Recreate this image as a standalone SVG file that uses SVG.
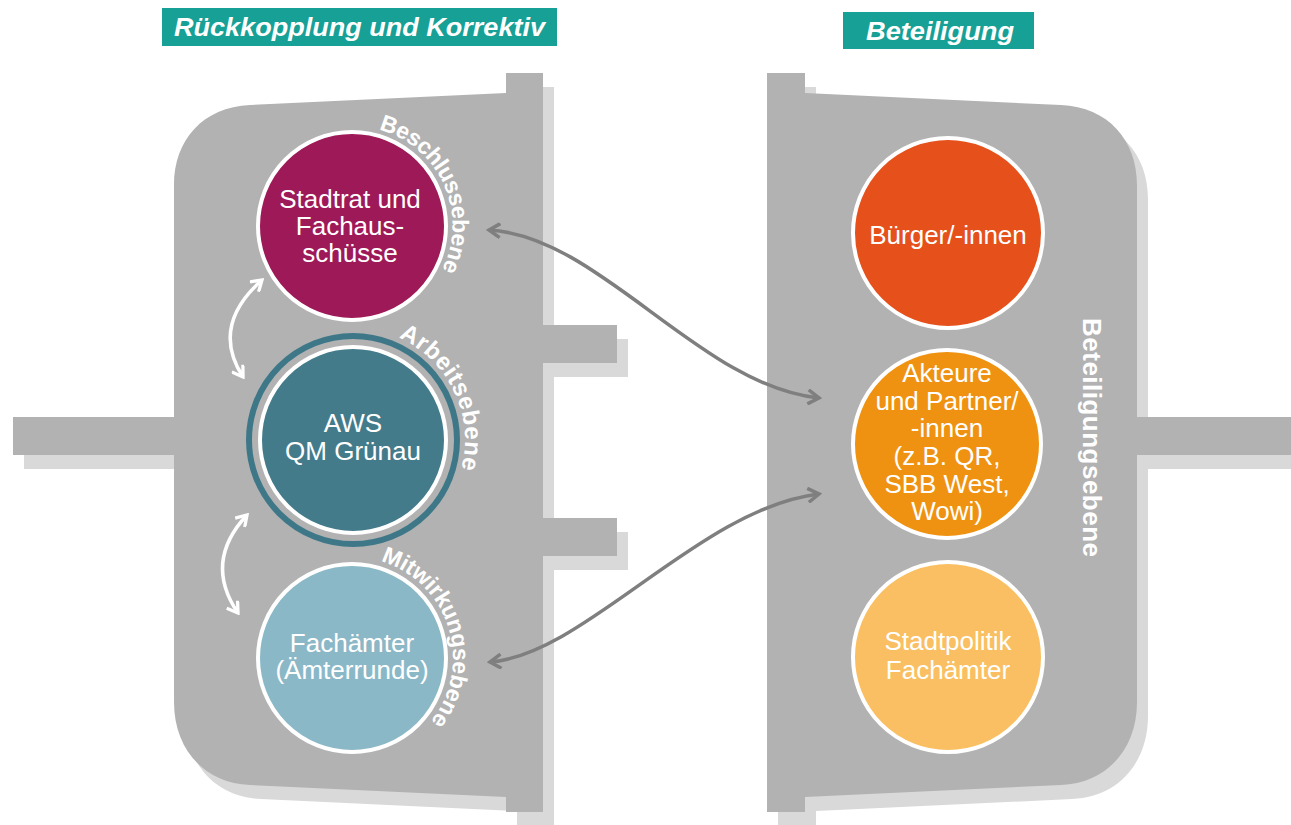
<svg xmlns="http://www.w3.org/2000/svg" width="1291" height="825" viewBox="0 0 1291 825">
<style>
.panel{fill:#b2b2b2}
.shadow{fill:#dad9da}
.title{fill:#17a096}
.ttxt{font-family:"Liberation Sans",Arial,sans-serif;font-weight:bold;font-style:italic;fill:#fff;text-anchor:middle}
.ctxt{font-family:"Liberation Sans",Arial,sans-serif;font-size:26px;fill:#fff;text-anchor:middle}
.ltxt{font-family:"Liberation Sans",Arial,sans-serif;font-weight:bold;fill:#fff}
.circ{stroke:#fff;stroke-width:4}
.conn{fill:none;stroke:#7f7f7f;stroke-width:3.5}
.wconn{fill:none;stroke:#fff;stroke-width:3.5}
</style>
<defs>
<marker id="ag" viewBox="0 0 16 16" refX="13" refY="8" markerWidth="16" markerHeight="16" markerUnits="userSpaceOnUse" orient="auto-start-reverse">
<path d="M2,1 L13,8 L2,15" fill="none" stroke="#7f7f7f" stroke-width="3.5"/>
</marker>
<marker id="aw" viewBox="0 0 16 16" refX="13" refY="8" markerWidth="15" markerHeight="15" markerUnits="userSpaceOnUse" orient="auto-start-reverse">
<path d="M2,1 L13,8 L2,15" fill="none" stroke="#fff" stroke-width="3.5"/>
</marker>
<path id="leftShape" d="M506,73 H543 V325 H617 V363 H543 V518 H617 V556 H543 V812 H506 V797 L250,785 C203,783 174,748 174,702 V455 H13 V417 H174 V185 C174,140 203,107 250,105 L506,93 Z"/>
<path id="rightShape" d="M767,73 H805 V93 L1061,105 C1108,107 1137,140 1137,185 V417 H1291 V455 H1137 V702 C1137,748 1108,783 1061,785 L805,797 V812 H767 Z"/>
<path id="arcB" d="M378.7,129.6 A99,99 0 0 1 441.1,271.4"/>
<path id="arcA" d="M398.6,337.7 A112,112 0 0 1 460.1,472.7"/>
<path id="arcM" d="M380.7,561.2 A101,101 0 0 1 429.4,722.9"/>
</defs>

<g id="panels">
<use href="#leftShape" class="shadow" transform="translate(11,14)"/>
<use href="#rightShape" class="shadow" transform="translate(11,14)"/>
<use href="#leftShape" class="panel"/>
<use href="#rightShape" class="panel"/>
</g>

<g id="title-left">
<rect class="title" x="162" y="8" width="395" height="38"/>
<text class="ttxt" x="359.5" y="36" style="font-size:25px" textLength="371" lengthAdjust="spacingAndGlyphs">Rückkopplung und Korrektiv</text>
</g>
<g id="title-right">
<rect class="title" x="843" y="12" width="191" height="37"/>
<text class="ttxt" x="940" y="40" style="font-size:26px" textLength="148" lengthAdjust="spacingAndGlyphs">Beteiligung</text>
</g>

<g id="node-stadtrat">
<circle class="circ" cx="352" cy="226" r="94" fill="#9e1958"/>
<text class="ctxt"><tspan x="350" y="208">Stadtrat und</tspan><tspan x="350" y="235">Fachaus-</tspan><tspan x="350" y="262">schüsse</tspan></text>
<text class="ltxt" style="font-size:23px"><textPath href="#arcB" textLength="176" lengthAdjust="spacing">Beschlussebene</textPath></text>
</g>

<g id="node-aws">
<circle cx="353" cy="440" r="104" fill="none" stroke="#3e7888" stroke-width="6"/>
<circle class="circ" cx="353" cy="440" r="93" fill="#447b8b"/>
<text class="ctxt"><tspan x="353" y="432">AWS</tspan><tspan x="353" y="460">QM Grünau</tspan></text>
<text class="ltxt" style="font-size:24px"><textPath href="#arcA" textLength="158" lengthAdjust="spacing">Arbeitsebene</textPath></text>
</g>

<g id="node-fachaemter">
<circle class="circ" cx="352" cy="658" r="94" fill="#8bb8c7"/>
<text class="ctxt"><tspan x="352" y="652">Fachämter</tspan><tspan x="352" y="679">(Ämterrunde)</tspan></text>
<text class="ltxt" style="font-size:23px"><textPath href="#arcM" textLength="198" lengthAdjust="spacing">Mitwirkungsebene</textPath></text>
</g>

<g id="node-buerger">
<circle class="circ" cx="948" cy="233" r="95" fill="#e5501b"/>
<text class="ctxt" x="948" y="244">Bürger/-innen</text>
</g>

<g id="node-akteure">
<circle class="circ" cx="947" cy="444" r="94" fill="#ef9211"/>
<text class="ctxt"><tspan x="947" y="382">Akteure</tspan><tspan x="947" y="410">und Partner/</tspan><tspan x="947" y="437">-innen</tspan><tspan x="947" y="465">(z.B. QR,</tspan><tspan x="947" y="493">SBB West,</tspan><tspan x="947" y="520">Wowi)</tspan></text>
</g>

<g id="node-stadtpolitik">
<circle class="circ" cx="948" cy="657" r="95" fill="#f9bf62"/>
<text class="ctxt"><tspan x="948" y="650">Stadtpolitik</tspan><tspan x="948" y="679">Fachämter</tspan></text>
</g>

<g id="label-beteiligungsebene">
<text class="ltxt" style="font-size:26px" text-anchor="middle" transform="translate(1083,437.5) rotate(90)" textLength="239" lengthAdjust="spacing">Beteiligungsebene</text>
</g>

<g id="connectors">
<path class="conn" d="M489,230 C600,236 700,386 819,398" marker-start="url(#ag)" marker-end="url(#ag)"/>
<path class="conn" d="M490,662 C585,655 700,508 819,494" marker-start="url(#ag)" marker-end="url(#ag)"/>
<path class="wconn" d="M262,280 Q210,326 243,377" marker-start="url(#aw)" marker-end="url(#aw)"/>
<path class="wconn" d="M247,515 Q203,562 238,613" marker-start="url(#aw)" marker-end="url(#aw)"/>
</g>
</svg>
